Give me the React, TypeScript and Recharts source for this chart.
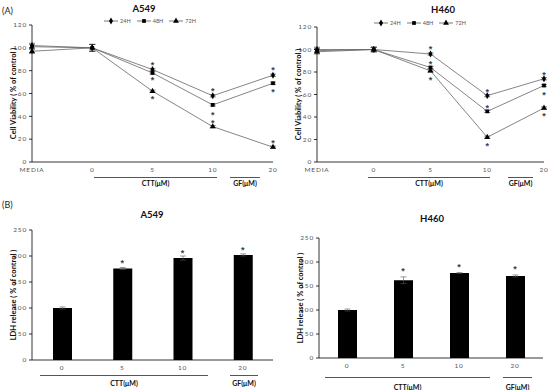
import React from "react";
import { Bar, ComposedChart, ErrorBar, Legend, Line, Symbols, XAxis, YAxis } from "recharts";

// (A) cell viability, % of control
const lineCats = ["MEDIA", "0", "5", "10", "20"];
const a549H24 = [102, 100, 81, 58, 76];
const a549H48 = [101, 100, 78, 50, 69];
const a549H72 = [97, 100, 62, 31, 13];
const a549Err = [2, 3, 1, 1, 1];
const a549Star1 = [null, null, 87, 64, 82];
const a549Star2 = [null, null, 74, 43, 63];
const a549Star3 = [null, null, 57, 36, 18];

const h460H24 = [100, 100, 96, 59, 74];
const h460H48 = [99, 100, 84, 45, 68];
const h460H72 = [98, 100, 81, 22, 48];
const h460Err = [2, 2, 1, 1, 1];
const h460Star1 = [null, null, 102, 64, 79];
const h460Star2 = [null, null, 89, 50, 61];
const h460Star3 = [null, null, 75, 16, 43];

const viabilityTicks = [0, 20, 40, 60, 80, 100, 120];

// (B) LDH release, % of control
const barCats = ["0", "5", "10", "20"];
const a549Ldh = [100, 176, 196, 202];
const a549LdhErr = [2, 2, 4, 2];
const a549LdhStar = [null, 190, 210, 215];
const h460Ldh = [100, 162, 177, 171];
const h460LdhErr = [2, 7, 1, 2];
const h460LdhStar = [null, 186, 194, 189];

const ldhTicks = [0, 50, 100, 150, 200, 250];

const FONT = "Lato, 'Liberation Sans', sans-serif";
const tickStyle = { fontSize: 6.5, fill: "#555", fontFamily: FONT, letterSpacing: 0.8 };
const yLabelStyle = { textAnchor: "middle", fontSize: 7.5, fontWeight: 700, fill: "#111", fontFamily: FONT };

const seriesDefs = [
  { key: "h24", name: "24H", symbol: "diamond" as const, size: 14 },
  { key: "h48", name: "48H", symbol: "square" as const, size: 14 },
  { key: "h72", name: "72H", symbol: "triangle" as const, size: 15 },
];

const starDot = (props: any) => {
  const { cx, cy, index, value } = props;
  if (cy == null || value == null) return <g key={index} />;
  return (
    <text
      key={index}
      x={cx}
      y={cy}
      dy={5}
      textAnchor="middle"
      fontSize={9}
      fontWeight={700}
      fill="#3c4250"
      fontFamily="'Liberation Sans', Arial, sans-serif"
    >
      *
    </text>
  );
};

const markerDot = (symbol: "diamond" | "square" | "triangle", size: number) => (props: any) => {
  const { cx, cy, index } = props;
  if (cy == null) return <g key={index} />;
  return <Symbols key={index} cx={cx} cy={cy} type={symbol} size={size} fill="#000" stroke="none" />;
};

const legendContent = (shift: number) => () => (
  <div
    style={{
      display: "flex",
      justifyContent: "center",
      gap: 5,
      height: 8,
      paddingLeft: shift,
      fontSize: 5.5,
      color: "#555",
      fontFamily: FONT,
      alignItems: "center",
    }}
  >
    {seriesDefs.map((s) => (
      <span key={s.key} style={{ display: "flex", alignItems: "center" }}>
        <svg width={16} height={8}>
          <line x1={1} x2={15} y1={4} y2={4} stroke="#555" strokeWidth={0.8} />
          <Symbols cx={8} cy={4} type={s.symbol} size={s.size} fill="#000" />
        </svg>
        <span style={{ marginLeft: 1 }}>{s.name}</span>
      </span>
    ))}
  </div>
);

type LinePanelProps = {
  h24: number[];
  h48: number[];
  h72: number[];
  err: number[];
  stars: (number | null)[][];
  margin: { top: number; right: number; bottom: number; left: number };
  legendShift: number;
};

function LinePanel({ h24, h48, h72, err, stars, margin, legendShift }: LinePanelProps) {
  const data = lineCats.map((cat, i) => ({
    cat,
    h24: h24[i],
    h48: h48[i],
    h72: h72[i],
    err: err[i],
    s1: stars[0][i],
    s2: stars[1][i],
    s3: stars[2][i],
  }));
  return (
    <ComposedChart width={280} height={190} data={data} margin={margin}>
      <XAxis
        dataKey="cat"
        interval={0}
        height={16}
        tickLine={false}
        tickSize={3}
        axisLine={{ stroke: "#000", strokeWidth: 0.8 }}
        tick={tickStyle}
      />
      <YAxis
        width={22}
        domain={[0, 120]}
        ticks={viabilityTicks}
        tickSize={3}
        tickMargin={2}
        axisLine={{ stroke: "#000", strokeWidth: 0.8 }}
        tickLine={{ stroke: "#000", strokeWidth: 0.8 }}
        tick={tickStyle}
        label={{
          value: "Cell Viability ( % of control )",
          angle: -90,
          position: "insideLeft",
          offset: 0,
          dx: 3,
          style: yLabelStyle,
        }}
      />
      <Legend verticalAlign="top" content={legendContent(legendShift)} />
      {seriesDefs.map((s) => (
        <Line
          key={s.key}
          dataKey={s.key}
          name={s.name}
          stroke="#666"
          strokeWidth={0.8}
          dot={markerDot(s.symbol, s.size)}
          activeDot={false}
          isAnimationActive={false}
        >
          <ErrorBar dataKey="err" width={3} stroke="#333" strokeWidth={0.6} />
        </Line>
      ))}
      {["s1", "s2", "s3"].map((k) => (
        <Line
          key={k}
          dataKey={k}
          stroke="none"
          dot={starDot}
          activeDot={false}
          legendType="none"
          isAnimationActive={false}
        />
      ))}
    </ComposedChart>
  );
}

type BarPanelProps = {
  values: number[];
  err: number[];
  stars: (number | null)[];
  margin: { top: number; right: number; bottom: number; left: number };
};

function BarPanel({ values, err, stars, margin }: BarPanelProps) {
  const data = barCats.map((cat, i) => ({ cat, ldh: values[i], err: err[i], star: stars[i] }));
  return (
    <ComposedChart width={280} height={200} data={data} margin={margin}>
      <XAxis
        dataKey="cat"
        interval={0}
        height={16}
        tickLine={false}
        tickSize={3}
        axisLine={{ stroke: "#000", strokeWidth: 0.8 }}
        tick={tickStyle}
      />
      <YAxis
        width={22}
        domain={[0, 250]}
        ticks={ldhTicks}
        tickSize={3}
        tickMargin={2}
        axisLine={{ stroke: "#000", strokeWidth: 0.8 }}
        tickLine={{ stroke: "#000", strokeWidth: 0.8 }}
        tick={tickStyle}
        label={{
          value: "LDH release  ( % of control )",
          angle: -90,
          position: "insideLeft",
          offset: 0,
          dx: 3,
          style: yLabelStyle,
        }}
      />
      <Bar dataKey="ldh" fill="#000" barSize={19} isAnimationActive={false}>
        <ErrorBar dataKey="err" width={3} stroke="#555" strokeWidth={0.6} />
      </Bar>
      <Line dataKey="star" stroke="none" dot={starDot} activeDot={false} isAnimationActive={false} />
    </ComposedChart>
  );
}

const abs = (left: number, top: number): React.CSSProperties => ({ position: "absolute", left, top });

function Title({ text, cx, cy, size = 9.5 }: { text: string; cx: number; cy: number; size?: number }) {
  return (
    <div
      style={{
        position: "absolute",
        left: cx - 40,
        top: cy - size * 0.6,
        width: 80,
        textAlign: "center",
        fontSize: size,
        fontWeight: 700,
        fontFamily: FONT,
        color: "#111",
        lineHeight: 1.2,
      }}
    >
      {text}
    </div>
  );
}

function Group({ text, x1, x2, lineY, textY }: { text: string; x1: number; x2: number; lineY: number; textY: number }) {
  return (
    <>
      <div style={{ position: "absolute", left: x1, top: lineY, width: x2 - x1, borderTop: "1px solid #555" }} />
      <Title text={text} cx={(x1 + x2) / 2} cy={textY} size={7} />
    </>
  );
}

export default function App() {
  return (
    <div style={{ position: "absolute", left: 0, top: 0, width: 550, height: 390, background: "#fff", fontFamily: FONT }}>
      <div style={abs(0, 0)}>
        <LinePanel
          h24={a549H24}
          h48={a549H48}
          h72={a549H72}
          err={a549Err}
          stars={[a549Star1, a549Star2, a549Star3]}
          margin={{ top: 17, right: 7, bottom: 12, left: 10 }}
          legendShift={16}
        />
      </div>
      <div style={abs(270, 0)}>
        <LinePanel
          h24={h460H24}
          h48={h460H48}
          h72={h460H72}
          err={h460Err}
          stars={[h460Star1, h460Star2, h460Star3]}
          margin={{ top: 19, right: 6, bottom: 12, left: 25 }}
          legendShift={0}
        />
      </div>
      <div style={abs(0, 190)}>
        <BarPanel values={a549Ldh} err={a549LdhErr} stars={a549LdhStar} margin={{ top: 40, right: 7, bottom: 14, left: 10 }} />
      </div>
      <div style={abs(270, 190)}>
        <BarPanel values={h460Ldh} err={h460LdhErr} stars={h460LdhStar} margin={{ top: 48, right: 7, bottom: 16, left: 27 }} />
      </div>

      <div style={{ ...abs(2, 5), fontSize: 9, fontFamily: FONT, color: "#222" }}>(A)</div>
      <div style={{ ...abs(2, 199), fontSize: 9, fontFamily: FONT, color: "#222" }}>(B)</div>
      <Title text="A549" cx={144} cy={9} />
      <Title text="H460" cx={443} cy={10} />
      <Title text="A549" cx={152} cy={215} />
      <Title text="H460" cx={432} cy={219} />

      <Group text="CTT(μM)" x1={94} x2={217} lineY={177} textY={183} />
      <Group text="GF(μM)" x1={230} x2={260} lineY={177} textY={183} />
      <Group text="CTT(μM)" x1={368} x2={490} lineY={177} textY={183} />
      <Group text="GF(μM)" x1={508} x2={533} lineY={177} textY={183} />
      <Group text="CTT(μM)" x1={40} x2={208} lineY={375} textY={383} />
      <Group text="GF(μM)" x1={230} x2={258} lineY={375} textY={383} />
      <Group text="CTT(μM)" x1={325} x2={490} lineY={377} textY={387} />
      <Group text="GF(μM)" x1={503} x2={532} lineY={377} textY={387} />
    </div>
  );
}
